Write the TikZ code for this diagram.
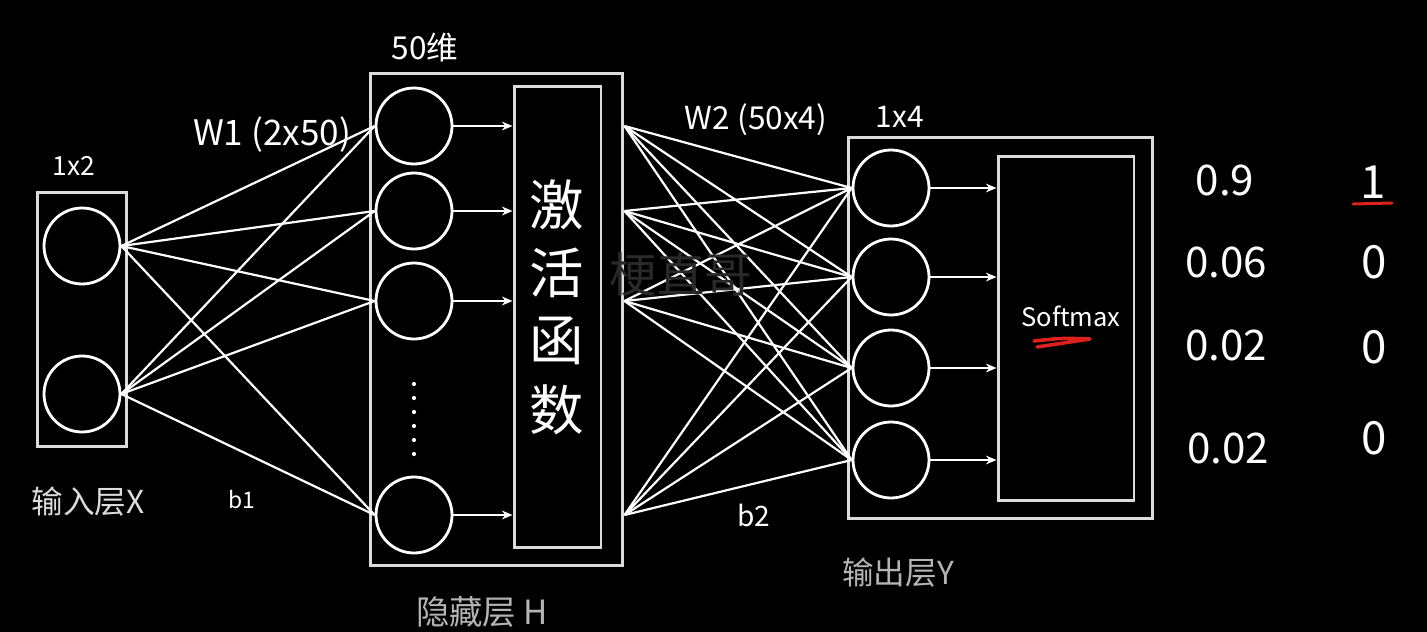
\documentclass[tikz,border=0pt]{standalone}
\usepackage{fontspec}
\setmainfont{Noto Sans CJK SC}
\usepackage{xcolor}
\usepackage{tikz}
\usetikzlibrary{calc,arrows.meta}

\definecolor{boxgray}{HTML}{DCDCDC}
\definecolor{labelgray}{HTML}{B4B4B4}
\definecolor{markred}{HTML}{E0201C}

\tikzset{
	box/.style={draw=boxgray, line width=1.7pt, inner sep=0pt},
	neuron/.style={circle, draw=white, line width=1.6pt, minimum size=1.52cm, inner sep=0pt},
	link/.style={white, line width=1.25pt},
	feed/.style={white, line width=1.2pt, -{Stealth[length=6pt,width=5pt]}},
	hand/.style={text=white, inner sep=0pt},
	layername/.style={text=labelgray, inner sep=0pt, font=\fontsize{18}{20}\selectfont}
}

\begin{document}
\begin{tikzpicture}[x=0.02cm, y=-0.02cm]
			\fill [black] (0, 0) rectangle (1427, 632);
			% boxes
			\node[box, minimum width=1.8cm, minimum height=5.1cm] (inbox) at (82, 319.5) {};
			\node[box, minimum width=5.06cm, minimum height=9.86cm] (hid) at (496.5, 319.5) {};
			\node[box, minimum width=1.74cm, minimum height=9.24cm] (act) at (557.5, 317) {};
			\node[box, minimum width=6.1cm, minimum height=7.64cm] (outbox) at (1000.5, 328) {};
			\node[box, minimum width=2.72cm, minimum height=6.9cm] (soft) at (1066, 328.5) {};
			% neurons
			\node[neuron] (x1) at (82, 246) {};
			\node[neuron] (x2) at (82, 394) {};
			\node[neuron] (h1) at (414, 126) {};
			\node[neuron] (h2) at (414, 211) {};
			\node[neuron] (h3) at (414, 301) {};
			\node[neuron] (h4) at (414, 515) {};
			\node[neuron] (o1) at (891, 188) {};
			\node[neuron] (o2) at (891, 277) {};
			\node[neuron] (o3) at (891, 368) {};
			\node[neuron] (o4) at (891, 460) {};
			\foreach \y in {384,398,...,454}
				\fill [white] (414, \y) circle (1.2pt);
			% weights
			\foreach \i in {1,2}
				\foreach \j in {1,...,4}
					\draw [link] (x\i.east) -- (h\j.west);
			\foreach \i in {1,...,4}
				\coordinate (hs\i) at (hid.east |- h\i);
			\foreach \i in {1,...,4}
				\foreach \j in {1,...,4}
					\draw [link] (hs\i) -- (o\j.west);
			\foreach \i in {1,...,4}
			{
				\draw [feed] (h\i.east) -- (h\i -| act.west);
				\draw [feed] (o\i.east) -- (o\i -| soft.west);
			}
			% labels
			\node[text=white!16!black, font=\fontsize{27}{30}\selectfont] (mark) at (681, 275) {梗直哥};
			\node[hand, font=\fontsize{15}{17}\selectfont] (xdim) at (74, 166) {1x2};
			\node[hand, font=\fontsize{20}{22}\selectfont] (w1) at (272, 135) {W1 (2x50)};
			\node[hand, font=\fontsize{18}{20}\selectfont] (hdim) at (425, 48) {50维};
			\node[hand, font=\fontsize{31}{33}\selectfont] (a1) at (557, 205) {激};
			\node[hand, font=\fontsize{31}{33}\selectfont] (a2) at (557, 273) {活};
			\node[hand, font=\fontsize{31}{33}\selectfont] (a3) at (557, 341) {函};
			\node[hand, font=\fontsize{31}{33}\selectfont] (a4) at (557, 410) {数};
			\node[layername, text=boxgray] (xname) at (88, 502) {输入层X};
			\node[hand, font=\fontsize{13}{15}\selectfont] (b1) at (242, 500) {b1};
			\node[layername, font=\fontsize{19}{21}\selectfont] (hname) at (482, 612) {隐藏层 H};
			\node[hand, font=\fontsize{18}{20}\selectfont] (w2) at (756, 120) {W2 (50x4)};
			\node[hand, font=\fontsize{16}{18}\selectfont] (b2) at (754, 515) {b2};
			\node[hand, font=\fontsize{17}{19}\selectfont] (odim) at (900, 117) {1x4};
			\node[layername] (oname) at (898, 573) {输出层Y};
			\node[hand, font=\fontsize{14.5}{16}\selectfont] (smax) at (1071, 316) {Softmax};
			\draw [markred, line width=2pt, line cap=round, line join=round] (1034, 341) .. controls (1062, 338) .. (1090, 339) .. controls (1064, 343) .. (1037, 347);
			% outputs
			\node[hand, font=\fontsize{24}{26}\selectfont] (p1) at (1225, 180) {0.9};
			\node[hand, font=\fontsize{24}{26}\selectfont] (p2) at (1226, 262) {0.06};
			\node[hand, font=\fontsize{24}{26}\selectfont] (p3) at (1226, 345) {0.02};
			\node[hand, font=\fontsize{24}{26}\selectfont] (p4) at (1228, 448) {0.02};
			\node[hand, font=\fontsize{26}{28}\selectfont] (t1) at (1373, 182) {1};
			\node[hand, font=\fontsize{26}{28}\selectfont] (t2) at (1374, 262) {0};
			\node[hand, font=\fontsize{26}{28}\selectfont] (t3) at (1374, 347) {0};
			\node[hand, font=\fontsize{26}{28}\selectfont] (t4) at (1374, 438) {0};
			\draw [markred, line width=1.7pt, line cap=round] (1353, 204) -- (1392, 203);
\end{tikzpicture}
\end{document}
